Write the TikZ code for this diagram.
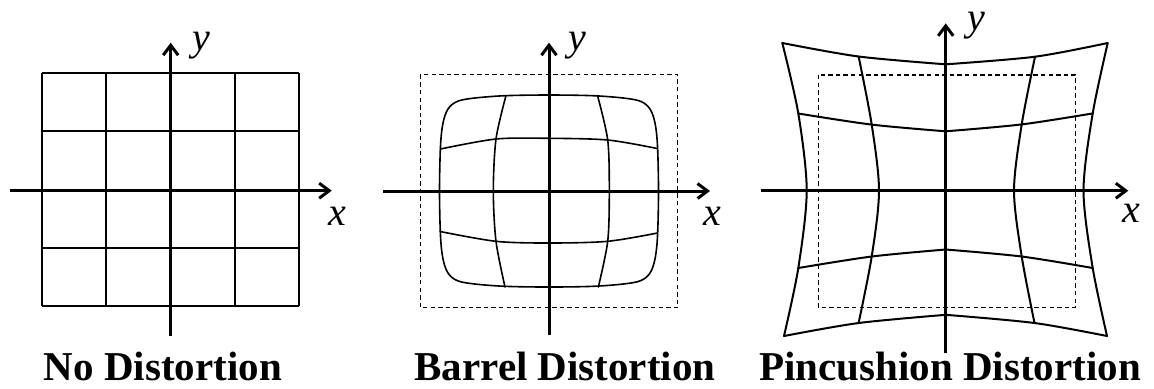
\documentclass[tikz,border=0pt]{standalone}
\usepackage{fontspec}
\setmainfont{Liberation Serif}
\usetikzlibrary{arrows.meta}
\begin{document}
\begin{tikzpicture}[x=0.5pt,y=-0.5pt,
  axis/.style={line width=1.5pt,-{Straight Barb[length=5pt,width=7.5pt]}},
  gridline/.style={line width=1pt},
  barrelline/.style={line width=0.8pt,line join=round,line cap=round},
  pinline/.style={line width=1pt,line join=round,line cap=round},
  dashbox/.style={line width=0.7pt,dash pattern=on 2.2pt off 1.6pt},
  title/.style={font=\fontsize{20.5}{24}\selectfont\bfseries,anchor=base,inner sep=0pt},
  axlabel/.style={font=\fontsize{20}{24}\selectfont\itshape,anchor=base,inner sep=0pt}]
\path[use as bounding box] (0,0) rectangle (1154,388);

% ---------- Panel 1: no distortion ----------
\foreach \i in {0,...,4} {
  \draw[gridline] ({41.7+64.4*\i},73.3) -- ({41.7+64.4*\i},306);
  \draw[gridline] (41.7,{73.3+58.175*\i}) -- (299.3,{73.3+58.175*\i});
}
\coordinate (p1xl) at (10,190.7);
\coordinate (p1xr) at (331.7,190.7);
\coordinate (p1yb) at (170.7,336);
\coordinate (p1yt) at (170.7,42.7);
\draw[axis] (p1xl) -- (p1xr);
\draw[axis] (p1yb) -- (p1yt);
\node[axlabel] (p1y) at (201,50) {y};
\node[axlabel] (p1x) at (337.5,225) {x};
\node[title] (t1) at (163,380) {No Distortion};

% ---------- Panel 2: barrel distortion ----------
\begin{scope}[shift={(549,191)}]
\draw[dashbox] (-128.7,-116.3) rectangle (128.7,116.7);
\draw[barrelline] plot[smooth cycle,tension=0.55] coordinates {
  (109.5,0) (108.5,45) (106,68) (101,82) (92,89.5) (76,92.8) (44,95.3) (0,96)
  (-44,95.3) (-76,92.8) (-92,89.5) (-101,82) (-106,68) (-108.5,45)
  (-109.5,0) (-108.5,-45) (-106,-68) (-101,-82) (-92,-89.5) (-76,-92.8) (-44,-95.3) (0,-96)
  (44,-95.3) (76,-92.8) (92,-89.5) (101,-82) (106,-68) (108.5,-45)};
\draw[barrelline] plot[smooth] coordinates {(-43,-95.4) (-53,-52) (-55.7,0) (-53,50.3) (-44,96)};
\draw[barrelline] plot[smooth] coordinates {(48.5,-95.4) (58.7,-51) (60.3,0) (58.7,50.3) (49.3,96)};
\draw[barrelline] plot[smooth] coordinates {(-108.6,-42) (-53,-52) (0,-52.7) (58.7,-51) (108.2,-42.5)};
\draw[barrelline] plot[smooth] coordinates {(-108.9,40.5) (-53,50.3) (0,52) (58.7,50.3) (108.4,42)};
\coordinate (p2xl) at (-166.3,0);
\coordinate (p2xr) at (161,0);
\coordinate (p2yb) at (0,144);
\coordinate (p2yt) at (0,-148.3);
\draw[axis] (p2xl) -- (p2xr);
\draw[axis] (p2yb) -- (p2yt);
\end{scope}
\node[axlabel] (p2y) at (577.5,50) {y};
\node[axlabel] (p2x) at (712.5,225) {x};
\node[title] (t2) at (565,380) {Barrel Distortion};

% ---------- Panel 3: pincushion distortion ----------
\draw[dashbox] (818.3,75) rectangle (1075.7,307.3);
% vertical lines
\draw[pinline] plot[smooth] coordinates {(782.3,43) (798.3,113.5) (806.7,190.7) (798.3,268) (784,336)};
\draw[pinline] plot[smooth] coordinates {(858.6,56.5) (871.7,124.6) (879,190.7) (871.7,256.5) (858.6,323)};
\draw[pinline] plot[smooth] coordinates {(1035,56.7) (1021.7,124.4) (1014,190.7) (1021.7,256.5) (1034.5,323)};
\draw[pinline] plot[smooth] coordinates {(1107.7,43) (1092.7,113.4) (1083.5,190.7) (1092.7,268) (1107,336)};
% horizontal lines (two halves meeting at the y axis)
\draw[pinline] plot[smooth] coordinates {(782.3,43) (858.6,56.5) (945.7,64.3)};
\draw[pinline] plot[smooth] coordinates {(945.7,64.3) (1035,56.7) (1107.7,43)};
\draw[pinline] plot[smooth] coordinates {(798.3,113.5) (871.7,124.6) (945.7,131.3)};
\draw[pinline] plot[smooth] coordinates {(945.7,131.3) (1021.7,124.4) (1092.7,113.4)};
\draw[pinline] plot[smooth] coordinates {(798.3,268) (871.7,256.5) (945.7,249.5)};
\draw[pinline] plot[smooth] coordinates {(945.7,249.5) (1021.7,256.5) (1092.7,268)};
\draw[pinline] plot[smooth] coordinates {(784,336) (858.6,323) (945.7,314.8)};
\draw[pinline] plot[smooth] coordinates {(945.7,314.8) (1034.5,323) (1107,336)};
\coordinate (p3xl) at (760.7,190.7);
\coordinate (p3xr) at (1128.3,190.7);
\coordinate (p3yb) at (945.7,353.3);
\coordinate (p3yt) at (945.7,23.3);
\draw[axis] (p3xl) -- (p3xr);
\draw[axis] (p3yb) -- (p3yt);
\node[axlabel] (p3y) at (976.7,30) {y};
\node[axlabel] (p3x) at (1131.7,222) {x};
\node[title] (t3) at (950,380) {Pincushion Distortion};
\end{tikzpicture}
\end{document}
